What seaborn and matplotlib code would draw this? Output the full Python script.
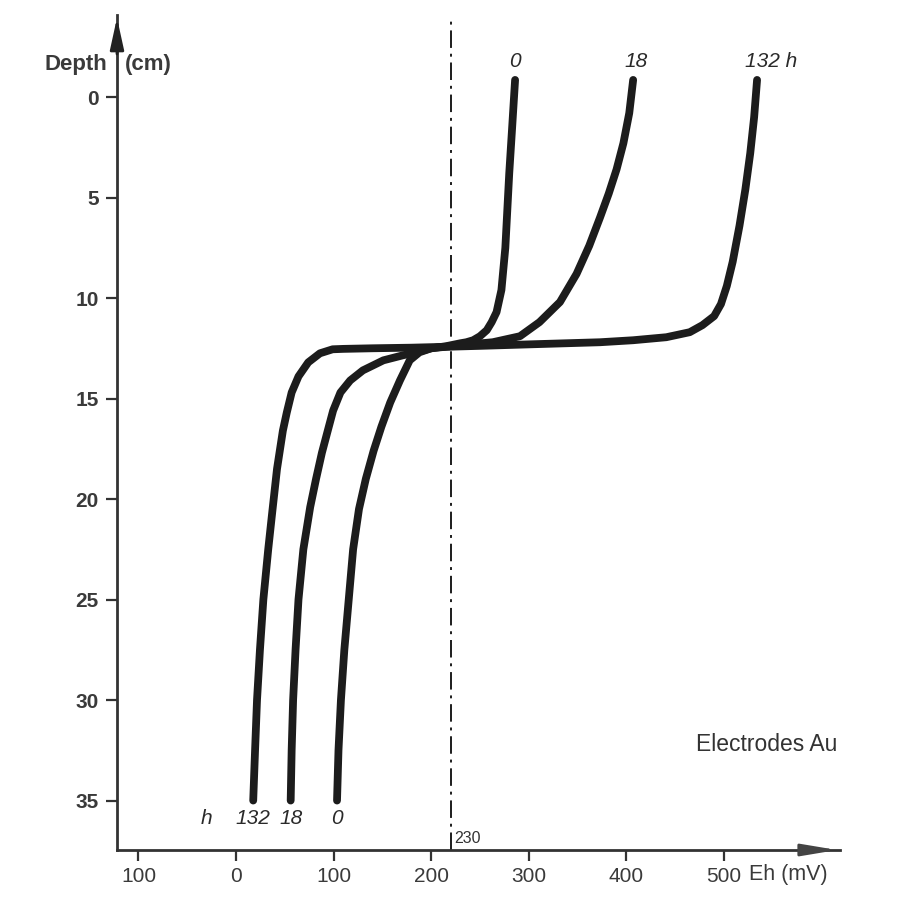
import numpy as np
import pandas as pd
import seaborn as sns
import matplotlib.pyplot as plt

# ============================================
# DATA
# ============================================

# Eh (mV) and depth (cm) along each curve, top to bottom
eh_0h = [286, 283, 280, 276, 272, 267, 262, 257, 250, 243, 236, 230, 215,
         200, 188, 178, 168, 158, 149, 141, 133, 126, 120, 115.5, 111, 107.5,
         105, 103.5]
depth_0h = [-0.85, 1.5, 3.8, 7.5, 9.6, 10.7, 11.2, 11.6, 11.9, 12.1, 12.2,
            12.25, 12.4, 12.5, 12.7, 13.1, 14.1, 15.2, 16.4, 17.6, 19.0,
            20.5, 22.5, 25, 27.5, 30, 32.5, 35]

eh_18h = [407, 403, 397, 390, 382, 373, 362, 349, 332, 311, 291, 263, 240,
          220, 200, 185, 171, 151, 130, 117, 107, 99.5, 94, 88, 82, 76, 69,
          64, 61, 58.5, 57, 56]
depth_18h = [-0.85, 0.8, 2.3, 3.6, 4.8, 6.0, 7.4, 8.8, 10.2, 11.2, 11.9,
             12.2, 12.3, 12.4, 12.5, 12.7, 12.85, 13.1, 13.6, 14.1, 14.7,
             15.6, 16.6, 17.7, 19.0, 20.4, 22.5, 25, 27.5, 30, 32.5, 35]

eh_132h = [534, 531, 527, 522, 516, 509, 503, 497, 490, 478, 465, 441, 407,
           373, 304, 250, 220, 180, 140, 110, 99, 86, 74, 64, 57, 52, 48,
           42, 37, 33, 28, 24.5, 21.5, 19.5, 17.6]
depth_132h = [-0.85, 1.0, 2.8, 4.6, 6.4, 8.2, 9.4, 10.3, 10.9, 11.35, 11.7,
              11.95, 12.1, 12.2, 12.3, 12.38, 12.42, 12.47, 12.5, 12.53,
              12.55, 12.75, 13.2, 13.9, 14.7, 15.7, 16.6, 18.5, 20.7, 22.5,
              25, 27.5, 30, 32.5, 35]

x_ticks = [-100, 0, 100, 200, 300, 400, 500]
x_tick_labels = ["100", "0", "100", "200", "300", "400", "500"]
y_ticks = [0, 5, 10, 15, 20, 25, 30, 35]

ref_eh = 220          # dash-dot reference line (labelled 230)
ref_label = "230"

# ============================================
# BUILD TABLE
# ============================================

frames = []
for name, eh, d in [("0", eh_0h, depth_0h),
                    ("18", eh_18h, depth_18h),
                    ("132", eh_132h, depth_132h)]:
    frames.append(pd.DataFrame({"Eh": eh, "depth": d, "time": name}))
df = pd.concat(frames, ignore_index=True)

# ============================================
# PLOT
# ============================================

sns.set_theme(style="white")
plt.rcParams['font.family'] = ['Liberation Sans', 'DejaVu Sans']

fig = plt.figure(figsize=(9.05, 9.01), dpi=100)
ax = fig.add_axes([117 / 905, 51 / 901, 723 / 905, 835 / 901])

ink = "#1c1c1c"

sns.lineplot(data=df, x="Eh", y="depth", hue="time", units="time",
             estimator=None, sort=False, palette=[ink, ink, ink],
             linewidth=5.6, legend=False, ax=ax,
             solid_capstyle="round", solid_joinstyle="round")

ax.axvline(ref_eh, ymin=0, ymax=0.993, color=ink, lw=1.4,
           linestyle=(0, (9, 3, 1.5, 3)))
ax.text(ref_eh + 4, 36.9, ref_label, fontsize=11.5, color="#333333",
        ha="left", va="center")

ax.set_xlim(-122, 619)
ax.set_ylim(37.46, -4.08)

ax.set_xticks(x_ticks)
ax.set_xticklabels(x_tick_labels)
ax.set_yticks(y_ticks)
ax.tick_params(axis="both", direction="out", length=8, width=1.6,
               color="#333333", labelsize=15, labelcolor="#3a3a3a", pad=4,
               bottom=True, left=True)
ax.tick_params(axis="y", pad=5)
for lab in ax.get_yticklabels():
    lab.set_fontweight("bold")

ax.set_xlabel("")
ax.set_ylabel("")
sns.despine(ax=ax)
for side in ["left", "bottom"]:
    ax.spines[side].set_linewidth(2)
    ax.spines[side].set_color("#333333")

# arrow heads on the axes
ax.annotate("", xy=(0, 1.0), xytext=(0, 0.95), xycoords="axes fraction",
            arrowprops=dict(arrowstyle="-|>,head_length=1.6,head_width=0.35",
                            color="#222222", lw=2), annotation_clip=False)
ax.annotate("", xy=(1.0, 0), xytext=(0.94, 0), xycoords="axes fraction",
            arrowprops=dict(arrowstyle="-|>,head_length=1.8,head_width=0.3",
                            color="#444444", lw=2), annotation_clip=False)

# curve labels
lab_kw = dict(fontsize=15, style="italic", color="#2a2a2a", ha="center",
              va="center")
ax.text(eh_0h[0], -1.75, "0", **lab_kw)
ax.text(eh_18h[0] + 3, -1.75, "18", **lab_kw)
ax.text(eh_132h[0] + 14, -1.75, "132 h", **lab_kw)
ax.text(eh_132h[-1], 35.9, "132", **lab_kw)
ax.text(eh_18h[-1], 35.9, "18", **lab_kw)
ax.text(eh_0h[-1], 35.9, "0", **lab_kw)
ax.text(-30, 35.9, "h", **lab_kw)

# axis titles
ax.text(-196, -1.6, "Depth", fontsize=16, fontweight="bold",
        color="#3a3a3a", ha="left", va="center", clip_on=False)
ax.text(-114, -1.6, "(cm)", fontsize=16, fontweight="bold",
        color="#3a3a3a", ha="left", va="center", clip_on=False)
ax.text(544, 32.2, "Electrodes Au", fontsize=16.5, color="#333333",
        ha="center", va="center")
ax.text(526, 38.67, "Eh (mV)", fontsize=15.5, color="#3a3a3a",
        ha="left", va="center", clip_on=False)

fig.savefig("out.png", dpi=100, facecolor="white")
